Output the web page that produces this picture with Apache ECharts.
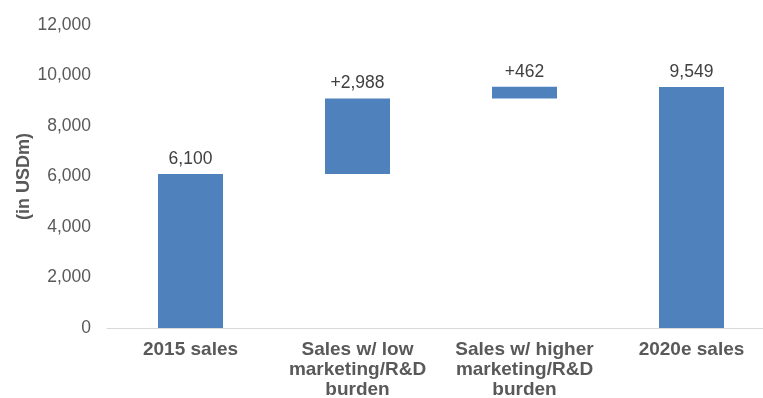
<!DOCTYPE html>
<html>
<head>
<meta charset="utf-8">
<style>
  html, body { margin: 0; padding: 0; background: #ffffff; }
  #chart { width: 763px; height: 398px; }
</style>
<script src="https://cdn.jsdelivr.net/npm/echarts@6/dist/echarts.min.js"></script>
</head>
<body>
<div id="chart"></div>
<script>
// Sales bridge from 2015 to 2020e (USD millions)
const categories = [
  '2015 sales',
  'Sales w/ low\nmarketing/R&D\nburden',
  'Sales w/ higher\nmarketing/R&D\nburden',
  '2020e sales'
];
// bar heights: totals for first/last, increments in between
const barValues = [6100, 2988, 462, 9549];
// which bars are increments stacked on the running total
const isStep = [false, true, true, false];
const yTicks = { min: 0, max: 12000, interval: 2000 };

// invisible offsets that lift the increment bars onto the running total
const offsets = [];
let running = 0;
barValues.forEach((v, i) => {
  if (isStep[i]) {
    offsets.push(running);
    running += v;
  } else {
    offsets.push(0);
    running = v;
  }
});

const chart = echarts.init(document.getElementById('chart'));
const fontFamily = 'Liberation Sans, Arial, sans-serif';

chart.setOption({
  animation: false,
  grid: { left: 107, top: 25, width: 668, bottom: 70, containLabel: false, outerBoundsMode: 'none' },
  xAxis: {
    type: 'category',
    data: categories,
    axisLine: { lineStyle: { color: '#d9d9d9', width: 1 } },
    axisTick: { show: false },
    axisLabel: {
      color: '#595959',
      fontWeight: 'bold',
      fontSize: 19,
      lineHeight: 20,
      margin: 12,
      fontFamily: fontFamily,
      interval: 0
    }
  },
  yAxis: {
    type: 'value',
    min: yTicks.min,
    max: yTicks.max,
    interval: yTicks.interval,
    name: '(in USDm)',
    nameLocation: 'middle',
    nameGap: 74,
    nameRotate: 90,
    nameMoveOverlap: false,
    nameTextStyle: { color: '#595959', fontWeight: 'bold', fontSize: 18, fontFamily: fontFamily },
    axisLine: { show: false },
    axisTick: { show: false },
    splitLine: { show: false },
    axisLabel: {
      color: '#595959',
      fontSize: 17.5,
      margin: 16,
      fontFamily: fontFamily,
      formatter: v => v.toLocaleString('en-US')
    }
  },
  series: [
    {
      type: 'bar',
      stack: 'bridge',
      data: offsets,
      barWidth: 65,
      itemStyle: { color: 'transparent' },
      emphasis: { disabled: true },
      silent: true
    },
    {
      type: 'bar',
      stack: 'bridge',
      data: barValues,
      barWidth: 65,
      itemStyle: { color: '#4f81bd' },
      label: {
        show: true,
        position: 'top',
        distance: 6,
        color: '#404040',
        fontSize: 17.5,
        fontFamily: fontFamily,
        formatter: p => (isStep[p.dataIndex] ? '+' : '') + p.value.toLocaleString('en-US')
      }
    }
  ]
});
</script>
</body>
</html>
